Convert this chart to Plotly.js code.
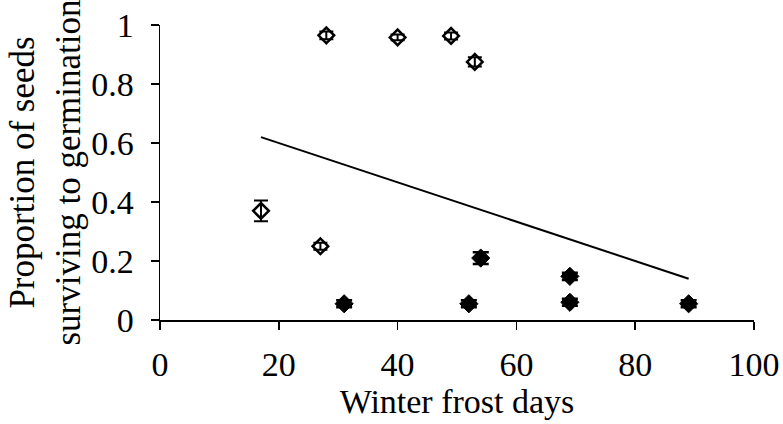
<!DOCTYPE html>
<html>
<head>
<meta charset="utf-8">
<script src="https://cdn.plot.ly/plotly-3.0.1.min.js"></script>
<style>html,body{margin:0;padding:0;background:#fff;}#chart{width:783px;height:424px;}</style>
</head>
<body>
<div id="chart"></div>
<script>
// Open symbols
const openX = [17, 27, 28, 40, 49, 53];
const openY = [0.37, 0.25, 0.965, 0.958, 0.963, 0.875];
const openErr = [0.035, 0.012, 0.013, 0.01, 0.012, 0.016];
// Filled symbols
const fillX = [31, 52, 54, 69, 69, 89];
const fillY = [0.055, 0.055, 0.21, 0.148, 0.06, 0.055];
const fillErr = [0.012, 0.012, 0.02, 0.012, 0.012, 0.012];
// Regression line end points
const lineX = [17, 89];
const lineY = [0.62, 0.14];
const xTicks = [0, 20, 40, 60, 80, 100];
const yTicks = [0, 0.2, 0.4, 0.6, 0.8, 1];

const serif = "'Liberation Serif', 'Times New Roman', Times, serif";

const traces = [
  {x: lineX, y: lineY, mode: 'lines', line: {color: '#000', width: 2}, showlegend: false, cliponaxis: false},
  {x: openX, y: openY, mode: 'markers', cliponaxis: false, showlegend: false,
   marker: {symbol: 'diamond-open', size: 12, color: '#000', line: {width: 2.5, color: '#000'}},
   error_y: {type: 'data', array: openErr, visible: true, color: '#000', thickness: 2, width: 7}},
  {x: fillX, y: fillY, mode: 'markers', cliponaxis: false, showlegend: false,
   marker: {symbol: 'diamond', size: 14, color: '#000', line: {width: 1, color: '#000'}},
   error_y: {type: 'data', array: fillErr, visible: true, color: '#000', thickness: 2.5, width: 8}}
];

const layout = {
  width: 783, height: 424,
  margin: {l: 160, r: 29, t: 25, b: 104},
  paper_bgcolor: '#fff', plot_bgcolor: '#fff',
  font: {family: serif, color: '#000', size: 34},
  xaxis: {
    range: [0, 100], tickvals: xTicks, ticktext: xTicks.map(String),
    showgrid: false, zeroline: false, showline: true, linecolor: '#000', linewidth: 1.5,
    ticks: 'outside', ticklen: 8, tickcolor: '#000', tickwidth: 1.5,
    tickfont: {family: serif, size: 34, color: '#000'}, ticklabelstandoff: 6,
    title: {text: 'Winter frost days', font: {family: serif, size: 34, color: '#000'}, standoff: 5}
  },
  yaxis: {
    range: [0, 1], tickvals: yTicks, ticktext: yTicks.map(String),
    showgrid: false, zeroline: false, showline: true, linecolor: '#000', linewidth: 1.5,
    ticks: 'outside', ticklen: 8, tickcolor: '#000', tickwidth: 1.5,
    tickfont: {family: serif, size: 34, color: '#000'}, ticklabelstandoff: 10,
    title: {text: 'Proportion of seeds<br>surviving to germination', font: {family: serif, size: 35, color: '#000'}, standoff: 0}
  }
};

Plotly.newPlot('chart', traces, layout, {displayModeBar: false, staticPlot: true});
</script>
</body>
</html>
